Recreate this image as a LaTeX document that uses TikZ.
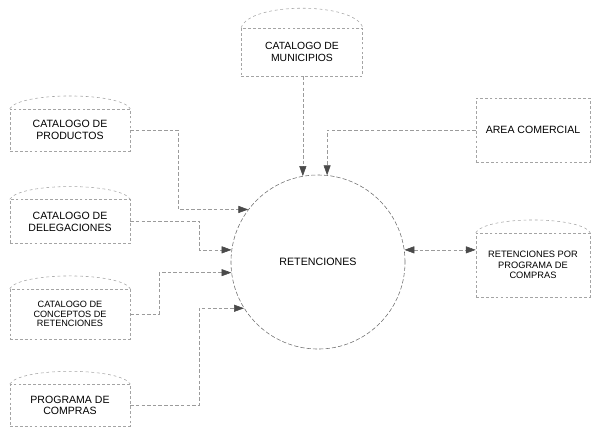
\documentclass[tikz,border=0pt]{standalone}
\usepackage{fontspec}
\setmainfont{Liberation Sans}
\usepackage{tikz}
\usetikzlibrary{arrows.meta, positioning, calc}
\definecolor{scan}{HTML}{4A4A4A}

\begin{document}
\begin{tikzpicture}[x=0.025cm, y=-0.025cm,
  >={Triangle[length=7pt, width=5pt, color=scan]},
  store/.style={rectangle, draw=scan!50, dash pattern=on 2pt off 1.5pt, align=center, inner sep=0pt, minimum width=3cm, font=\fontsize{7.5}{8.5}\selectfont},
  storecap/.style={draw=scan!50, dash pattern=on 2pt off 2pt},
  proc/.style={circle, draw=scan!80, dash pattern=on 3pt off 1.5pt, minimum size=4.35cm, font=\fontsize{7.6}{9}\selectfont},
  entity/.style={rectangle, draw=scan!50, dash pattern=on 2pt off 1.5pt, align=center, minimum width=2.85cm, minimum height=1.6cm, font=\fontsize{7.5}{9}\selectfont},
  flow/.style={draw=scan!55, dash pattern=on 2.5pt off 1.5pt, ->}
]
  \useasboundingbox (0,0) rectangle (592,430);

  \node[proc] (ret) at (318,262) {RETENCIONES};

  \node[store, minimum width=3.025cm, minimum height=1.2cm, font=\fontsize{7.4}{8.5}\selectfont] (munic) at (302,52) {CATALOGO DE\\MUNICIPIOS};
  \draw[storecap] (munic.north west) .. controls +(8,-26) and +(-8,-26) .. (munic.north east);

  \node[store, minimum height=1.05cm] (prod) at (70,130) {CATALOGO DE\\PRODUCTOS};
  \node[store, minimum height=1.1cm, below=1.2cm of prod] (deleg) {CATALOGO DE\\DELEGACIONES};
  \node[store, minimum height=1.25cm, below=1.12cm of deleg, font=\fontsize{6.5}{7}\selectfont] (concep) {CATALOGO DE\\CONCEPTOS DE\\RETENCIONES};
  \node[store, minimum height=1.05cm, below=1.12cm of concep] (progr) {PROGRAMA DE\\COMPRAS};
  \foreach \s in {prod, deleg, concep, progr}
    \draw[storecap] (\s.north west) .. controls +(10,-17) and +(-10,-17) .. (\s.north east);

  \node[entity] (area) at (533,130) {AREA COMERCIAL};

  \node[store, minimum width=2.85cm, minimum height=1.6cm, font=\fontsize{6.6}{7.4}\selectfont] (retprog) at (533,265) {RETENCIONES POR\\PROGRAMA DE\\COMPRAS};
  \draw[storecap] (retprog.north west) .. controls +(10,-17) and +(-10,-17) .. (retprog.north east);

  \draw[flow] (munic.south -| ret.100) -- (ret.100);
  \draw[flow] (area.west) -| (ret.84);
  \draw[flow, <->] (ret.8) -- (ret.8 -| retprog.west);

  \draw[flow] (prod.east) -| ($(ret.143)+(-70,0)$) -- (ret.143);
  \draw[flow] (deleg.east) -| ($(ret.172)+(-32,0)$) -- (ret.172);
  \draw[flow] (concep.east) -| ($(ret.187)+(-72,0)$) -- (ret.187);
  \draw[flow] (progr.east) -| ($(ret.212)+(-45,0)$) -- (ret.212);
\end{tikzpicture}
\end{document}
